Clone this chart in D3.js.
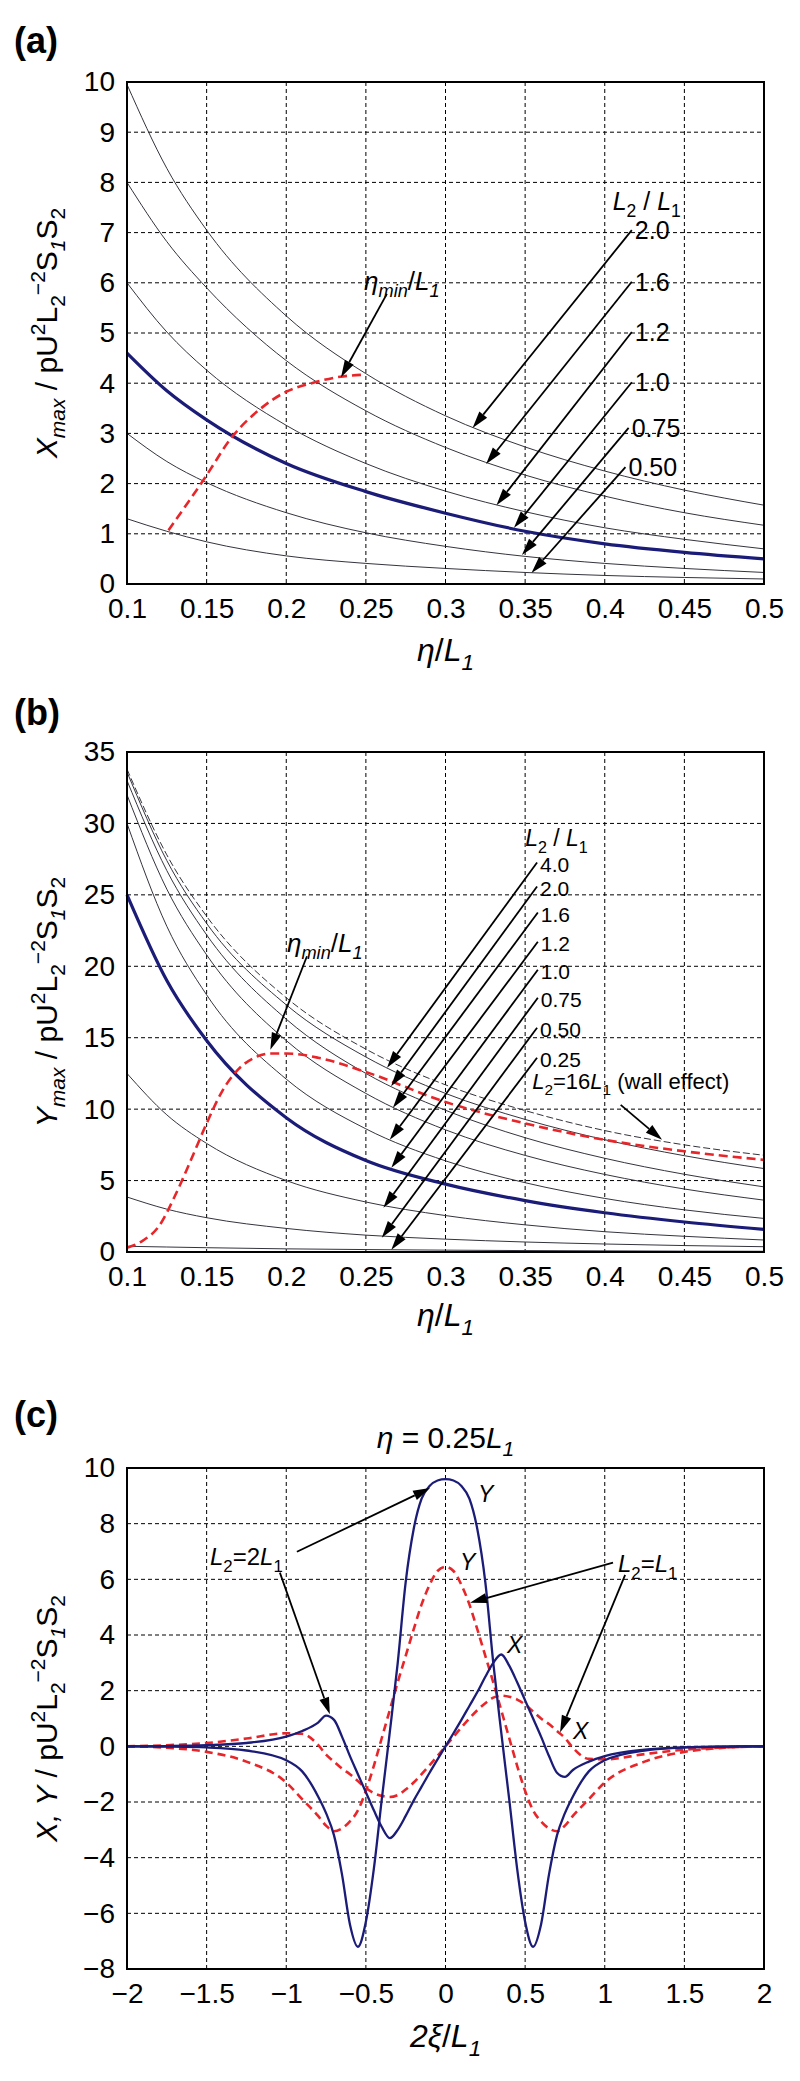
<!DOCTYPE html>
<html>
<head>
<meta charset="utf-8">
<script src="https://cdn.jsdelivr.net/npm/d3@7"></script>
<style>
  body { margin: 0; background: #fff; }
  svg { display: block; }
</style>
</head>
<body>
<div id="chart"></div>
<script>
// ---------- data ----------

// panel (a): X_max vs eta/L1, one curve per L2/L1
const etaA = [0.1, 0.125, 0.15, 0.2, 0.25, 0.3, 0.35, 0.4, 0.45, 0.5];
const xmax20 = [9.95, 8.28, 7.05, 5.34, 4.19, 3.35, 2.73, 2.25, 1.87, 1.57];
const xmax16 = [8.0, 6.82, 5.9, 4.45, 3.45, 2.72, 2.17, 1.75, 1.42, 1.17];
const xmax12 = [6.0, 5.02, 4.26, 3.16, 2.4, 1.85, 1.44, 1.12, 0.89, 0.70];
const xmax10 = [4.6, 3.85, 3.27, 2.4, 1.84, 1.41, 1.05, 0.8, 0.63, 0.5];
const xmax075 = [3.0, 2.44, 2.02, 1.42, 1.02, 0.75, 0.55, 0.41, 0.31, 0.23];
const xmax050 = [1.3, 1.05, 0.84, 0.56, 0.41, 0.31, 0.23, 0.17, 0.13, 0.10];
const etaMinA = [0.126, 0.148, 0.166, 0.183, 0.2, 0.217, 0.234, 0.25];
const xmaxMin = [1.07, 2.07, 2.93, 3.47, 3.83, 4.01, 4.13, 4.17];
const ratioLabelsA = ["2.0", "1.6", "1.2", "1.0", "0.75", "0.50"];
// arrow start / tip in data units
const arrowsA = [
  [0.417, 7.05, 0.317, 3.11],
  [0.417, 6.02, 0.3255, 2.39],
  [0.417, 5.02, 0.332, 1.57],
  [0.417, 4.02, 0.343, 1.12],
  [0.415, 3.11, 0.348, 0.58],
  [0.413, 2.33, 0.354, 0.22]
];

// panel (b): Y_max vs eta/L1
const etaB = [0.1, 0.125, 0.15, 0.2, 0.25, 0.3, 0.35, 0.4, 0.45, 0.5];
const ymaxWall = [33.8, 27.8, 23.5, 17.8, 14.2, 11.7, 9.9, 8.5, 7.5, 6.77];
const ymax40 = [33.6, 27.4, 23.0, 17.3, 13.65, 11.1, 9.28, 7.86, 6.74, 5.84];
const ymax20 = [33.0, 26.7, 22.2, 16.3, 12.5, 9.92, 8.0, 6.56, 5.44, 4.56];
const ymax16 = [32.0, 25.4, 20.8, 14.8, 11.1, 8.55, 6.76, 5.43, 4.41, 3.63];
const ymax12 = [30.0, 22.8, 18.0, 12.1, 8.62, 6.38, 4.85, 3.75, 2.95, 2.35];
const ymax10 = [25.0, 19.0, 14.8, 9.4, 6.4, 4.75, 3.6, 2.75, 2.1, 1.58];
const ymax075 = [12.5, 9.6, 7.6, 5.0, 3.5, 2.55, 1.9, 1.42, 1.1, 0.84];
const ymax050 = [3.85, 3.0, 2.4, 1.65, 1.18, 0.9, 0.7, 0.56, 0.45, 0.37];
const ymax025 = [0.4, 0.35, 0.3, 0.22, 0.17, 0.13, 0.1, 0.08, 0.06, 0.05];
const etaMinB = [0.1, 0.11, 0.12, 0.13, 0.14, 0.15, 0.16, 0.17, 0.18, 0.19, 0.2, 0.22, 0.25, 0.3, 0.35, 0.4, 0.45, 0.5];
const ymaxMin = [0.3, 0.8, 1.8, 3.9, 6.4, 9.0, 11.3, 12.8, 13.6, 13.9, 13.9, 13.6, 12.6, 10.5, 9.0, 7.85, 7.05, 6.45];
const ratioLabelsB = ["4.0", "2.0", "1.6", "1.2", "1.0", "0.75", "0.50", "0.25"];
const arrowsB = [
  [0.3575, 27.26, 0.2633, 12.9],
  [0.3575, 25.58, 0.2658, 11.6],
  [0.358, 23.76, 0.267, 10.1],
  [0.358, 21.72, 0.265, 7.85],
  [0.358, 19.76, 0.266, 5.9],
  [0.358, 17.8, 0.261, 3.1],
  [0.3575, 15.7, 0.26, 1.0],
  [0.3575, 13.6, 0.266, 0.15]
];

// panel (c): X, Y vs 2xi/L1 at eta = 0.25 L1
const xi = [-2, -1.75, -1.5, -1.25, -1.0, -0.9, -0.8, -0.75, -0.7, -0.65, -0.6, -0.55, -0.5, -0.45, -0.4, -0.35, -0.3, -0.25, -0.2, -0.15, -0.1, -0.05,
  0, 0.05, 0.1, 0.15, 0.2, 0.25, 0.3, 0.35, 0.4, 0.45, 0.5, 0.55, 0.6, 0.65, 0.7, 0.75, 0.8, 0.9, 1.0, 1.25, 1.5, 1.75, 2];
const yTwoL1 = [0, -0.01, -0.04, -0.15, -0.5, -0.9, -1.8, -2.4, -3.2, -4.6, -6.4, -7.2, -6.3, -4.4, -1.9, 0.5, 3.0, 5.9, 7.8, 8.9, 9.35, 9.55,
  9.6, 9.55, 9.35, 8.9, 7.8, 5.9, 3.0, 0.5, -1.9, -4.4, -6.3, -7.2, -6.4, -4.6, -3.2, -2.4, -1.8, -0.9, -0.5, -0.15, -0.04, -0.01, 0];
const xTwoL1 = [0, 0.01, 0.04, 0.12, 0.35, 0.55, 0.85, 1.1, 0.95, 0.35, -0.35, -1.0, -1.65, -2.3, -2.9, -3.3, -3.0, -2.5, -1.95, -1.45, -0.95, -0.47,
  0, 0.47, 0.95, 1.45, 1.95, 2.5, 3.0, 3.3, 2.9, 2.3, 1.65, 1.0, 0.35, -0.35, -0.95, -1.1, -0.85, -0.55, -0.35, -0.12, -0.04, -0.01, 0];
const yOneL1 = [0, -0.05, -0.2, -0.55, -1.3, -1.9, -2.5, -2.85, -3.05, -2.95, -2.7, -2.3, -1.6, -0.7, 0.3, 1.3, 2.3, 3.25, 4.2, 5.1, 5.8, 6.3,
  6.45, 6.3, 5.8, 5.1, 4.2, 3.25, 2.3, 1.3, 0.3, -0.7, -1.6, -2.3, -2.7, -2.95, -3.05, -2.85, -2.5, -1.9, -1.3, -0.55, -0.2, -0.05, 0];
const xOneL1 = [0, 0.04, 0.12, 0.28, 0.47, 0.45, 0.05, -0.3, -0.55, -0.8, -1.0, -1.25, -1.5, -1.68, -1.78, -1.82, -1.75, -1.55, -1.3, -1.0, -0.68, -0.34,
  0, 0.34, 0.68, 1.0, 1.3, 1.55, 1.75, 1.82, 1.78, 1.68, 1.5, 1.25, 1.0, 0.8, 0.55, 0.3, -0.05, -0.45, -0.47, -0.28, -0.12, -0.04, 0];
const arrowsC = [
  [-0.933, 6.99, -0.097, 9.28],
  [-1.04, 6.24, -0.726, 1.15],
  [1.052, 6.6, 0.154, 5.16],
  [1.128, 6.16, 0.719, 0.5]
];

// ---------- drawing ----------
const W = 800, H = 2081;
const FONT = "'Liberation Sans', Arial, Helvetica, sans-serif";
const NAVY = "#1b1b78", RED = "#e8262a", THIN = "#34343e";
const left = 127, right = 764;

const svg = d3.select("#chart").append("svg")
  .attr("width", W).attr("height", H)
  .attr("font-family", FONT);

// text with italic / sub / sup parts
function rich(sel, parts, size) {
  let off = 0;
  parts.forEach(([str, fmt = ""]) => {
    const f = fmt.split(" ");
    let target = 0, fs = size;
    if (f.includes("sub")) { target = 0.28 * size; fs = 0.7 * size; }
    if (f.includes("sup")) { target = -0.4 * size; fs = 0.7 * size; }
    sel.append("tspan")
      .attr("dy", target - off)
      .attr("font-size", fs)
      .attr("font-style", f.includes("i") ? "italic" : "normal")
      .text(str);
    off = target;
  });
  return sel;
}

function arrow(g, x1, y1, x2, y2) {
  const a = Math.atan2(y2 - y1, x2 - x1), len = 17, hw = 5;
  const bx = x2 - len * Math.cos(a), by = y2 - len * Math.sin(a);
  g.append("line").attr("x1", x1).attr("y1", y1).attr("x2", bx).attr("y2", by)
    .attr("stroke", "#000").attr("stroke-width", 1.8);
  g.append("path")
    .attr("d", `M${x2},${y2}L${bx + hw * Math.sin(a)},${by - hw * Math.cos(a)}L${bx - hw * Math.sin(a)},${by + hw * Math.cos(a)}Z`)
    .attr("fill", "#000");
}

const fmtNum = d => (d < 0 ? "\u2212" + Math.abs(d) : String(d));

function panel(cfg) {
  const x = d3.scaleLinear().domain(cfg.xDomain).range([left, right]);
  const y = d3.scaleLinear().domain(cfg.yDomain).range([cfg.bottom, cfg.top]);
  const g = svg.append("g");

  // grid
  g.append("g").selectAll("line").data(cfg.xTicks.slice(1, -1)).join("line")
    .attr("x1", d => x(d)).attr("x2", d => x(d))
    .attr("y1", cfg.top).attr("y2", cfg.bottom)
    .attr("stroke", "#000").attr("stroke-width", 1).attr("stroke-dasharray", "4,3");
  g.append("g").selectAll("line").data(cfg.yTicks.slice(1, -1)).join("line")
    .attr("y1", d => y(d)).attr("y2", d => y(d))
    .attr("x1", left).attr("x2", right)
    .attr("stroke", "#000").attr("stroke-width", 1).attr("stroke-dasharray", "4,3");

  // tick labels
  const ax = g.append("g").attr("transform", `translate(0,${cfg.bottom})`)
    .call(d3.axisBottom(x).tickValues(cfg.xTicks).tickSize(0).tickPadding(14).tickFormat(fmtNum));
  const ay = g.append("g").attr("transform", `translate(${left},0)`)
    .call(d3.axisLeft(y).tickValues(cfg.yTicks).tickSize(0).tickPadding(12).tickFormat(fmtNum));
  [ax, ay].forEach(a => {
    a.select(".domain").remove();
    a.selectAll("text").attr("font-size", 28).attr("font-family", FONT).attr("fill", "#000");
  });

  // panel letter
  svg.append("text").attr("x", 14).attr("y", cfg.letterY)
    .attr("font-size", 36).attr("font-weight", "bold").text(cfg.letter);

  // axis titles
  rich(svg.append("text").attr("x", (left + right) / 2).attr("y", cfg.xTitleY)
    .attr("text-anchor", "middle"), cfg.xTitle, 32);
  rich(svg.append("text")
    .attr("transform", `translate(57,${(cfg.top + cfg.bottom) / 2}) rotate(-90)`)
    .attr("text-anchor", "middle"), cfg.yTitle, 30);

  const plot = g.append("g");
  return { x, y, g, plot, cfg };
}

function drawLine(p, xs, ys, style) {
  const line = d3.line().x((d, i) => p.x(xs[i])).y(d => p.y(d)).curve(d3.curveMonotoneX);
  p.plot.append("path").datum(ys)
    .attr("d", line)
    .attr("fill", "none")
    .attr("stroke", style.color)
    .attr("stroke-width", style.width)
    .attr("stroke-dasharray", style.dash || null)
    .attr("stroke-linejoin", "round");
}

function frame(p) {
  p.g.append("rect").attr("x", left).attr("y", p.cfg.top)
    .attr("width", right - left).attr("height", p.cfg.bottom - p.cfg.top)
    .attr("fill", "none").attr("stroke", "#000").attr("stroke-width", 2);
}

const etaTitle = [["\u03b7", "i"], ["/"], ["L", "i"], ["1", "i sub"]];
const etaMinLabel = [["\u03b7", "i"], ["min", "i sub"], ["/"], ["L", "i"], ["1", "i sub"]];
const ratioTitle = [["L", "i"], ["2", "sub"], [" / "], ["L", "i"], ["1", "sub"]];

// ----- panel (a) -----
const pa = panel({
  letter: "(a)", letterY: 53, top: 82, bottom: 584,
  xDomain: [0.1, 0.5], yDomain: [0, 10],
  xTicks: [0.1, 0.15, 0.2, 0.25, 0.3, 0.35, 0.4, 0.45, 0.5],
  yTicks: [0, 1, 2, 3, 4, 5, 6, 7, 8, 9, 10],
  xTitleY: 661, xTitle: etaTitle,
  yTitle: [["X", "i"], ["max", "i sub"], [" / pU"], ["2", "sup"], ["L"], ["2", "sub"], ["\u22122", "sup"], ["S"], ["1", "i sub"], ["S"], ["2", "sub"]]
});
[xmax20, xmax16, xmax12, xmax075, xmax050].forEach(s => drawLine(pa, etaA, s, { color: THIN, width: 1 }));
drawLine(pa, etaA, xmax10, { color: NAVY, width: 3.2 });
drawLine(pa, etaMinA, xmaxMin, { color: RED, width: 2.6, dash: "9,5" });
frame(pa);
const annA = svg.append("g");
arrowsA.forEach(([x1, y1, x2, y2], i) => {
  arrow(annA, pa.x(x1), pa.y(y1), pa.x(x2), pa.y(y2));
  annA.append("text").attr("x", pa.x(x1) + 3).attr("y", pa.y(y1) + 9)
    .attr("font-size", 25).text(ratioLabelsA[i]);
});
rich(annA.append("text").attr("x", pa.x(0.405)).attr("y", pa.y(7.45)), ratioTitle, 25);
rich(annA.append("text").attr("x", pa.x(0.2489)).attr("y", pa.y(5.86)), etaMinLabel, 26);
arrow(annA, pa.x(0.2632), pa.y(5.78), pa.x(0.2344), pa.y(4.12));

// ----- panel (b) -----
const pb = panel({
  letter: "(b)", letterY: 725, top: 752, bottom: 1252,
  xDomain: [0.1, 0.5], yDomain: [0, 35],
  xTicks: [0.1, 0.15, 0.2, 0.25, 0.3, 0.35, 0.4, 0.45, 0.5],
  yTicks: [0, 5, 10, 15, 20, 25, 30, 35],
  xTitleY: 1326, xTitle: etaTitle,
  yTitle: [["Y", "i"], ["max", "i sub"], [" / pU"], ["2", "sup"], ["L"], ["2", "sub"], ["\u22122", "sup"], ["S"], ["1", "i sub"], ["S"], ["2", "sub"]]
});
drawLine(pb, etaB, ymaxWall, { color: THIN, width: 1, dash: "7,3" });
[ymax40, ymax20, ymax16, ymax12, ymax075, ymax050, ymax025].forEach(s => drawLine(pb, etaB, s, { color: THIN, width: 1 }));
drawLine(pb, etaB, ymax10, { color: NAVY, width: 3.2 });
drawLine(pb, etaMinB, ymaxMin, { color: RED, width: 2.6, dash: "9,5" });
frame(pb);
const annB = svg.append("g");
arrowsB.forEach(([x1, y1, x2, y2], i) => {
  arrow(annB, pb.x(x1), pb.y(y1), pb.x(x2), pb.y(y2));
  annB.append("text").attr("x", pb.x(x1) + 3).attr("y", pb.y(y1) + 9)
    .attr("font-size", 21).text(ratioLabelsB[i]);
});
rich(annB.append("text").attr("x", pb.x(0.35)).attr("y", pb.y(28.4)), ratioTitle, 23);
rich(annB.append("text").attr("x", pb.x(0.2005)).attr("y", pb.y(21.0)), etaMinLabel, 26);
arrow(annB, pb.x(0.213), pb.y(20.7), pb.x(0.19), pb.y(14.16));
rich(annB.append("text").attr("x", pb.x(0.3544)).attr("y", pb.y(11.42)),
  [["L", "i"], ["2", "sub"], ["=16"], ["L", "i"], ["1", "sub"], [" (wall effect)"]], 22);
arrow(annB, pb.x(0.41), pb.y(10.3), pb.x(0.436), pb.y(7.85));

// ----- panel (c) -----
const pc = panel({
  letter: "(c)", letterY: 1427, top: 1468, bottom: 1969,
  xDomain: [-2, 2], yDomain: [-8, 10],
  xTicks: [-2, -1.5, -1, -0.5, 0, 0.5, 1, 1.5, 2],
  yTicks: [-8, -6, -4, -2, 0, 2, 4, 6, 8, 10],
  xTitleY: 2047, xTitle: [["2\u03be", "i"], ["/"], ["L", "i"], ["1", "i sub"]],
  yTitle: [["X, Y", "i"], [" / pU"], ["2", "sup"], ["L"], ["2", "sub"], ["\u22122", "sup"], ["S"], ["1", "i sub"], ["S"], ["2", "sub"]]
});
drawLine(pc, xi, yOneL1, { color: RED, width: 2.6, dash: "8,5" });
drawLine(pc, xi, xOneL1, { color: RED, width: 2.6, dash: "8,5" });
drawLine(pc, xi, yTwoL1, { color: NAVY, width: 2.3 });
drawLine(pc, xi, xTwoL1, { color: NAVY, width: 2.3 });
frame(pc);
const annC = svg.append("g");
arrowsC.forEach(([x1, y1, x2, y2]) => arrow(annC, pc.x(x1), pc.y(y1), pc.x(x2), pc.y(y2)));
rich(annC.append("text").attr("x", pc.x(-1.479)).attr("y", pc.y(6.52)),
  [["L", "i"], ["2", "sub"], ["=2"], ["L", "i"], ["1", "sub"]], 24);
rich(annC.append("text").attr("x", pc.x(1.083)).attr("y", pc.y(6.27)),
  [["L", "i"], ["2", "sub"], ["="], ["L", "i"], ["1", "sub"]], 24);
[["Y", 0.204, 8.78], ["Y", 0.091, 6.34], ["X", 0.386, 3.37], ["X", 0.80, 0.25]].forEach(([t, xv, yv]) => {
  annC.append("text").attr("x", pc.x(xv)).attr("y", pc.y(yv))
    .attr("font-size", 23).attr("font-style", "italic").text(t);
});
rich(svg.append("text").attr("x", (left + right) / 2).attr("y", 1448).attr("text-anchor", "middle"),
  [["\u03b7", "i"], [" = 0.25"], ["L", "i"], ["1", "i sub"]], 30);
</script>
</body>
</html>
